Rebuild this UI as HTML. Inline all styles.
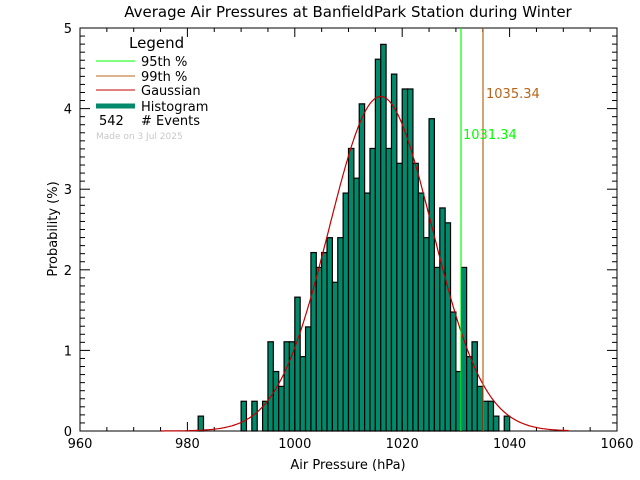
<!DOCTYPE html>
<html><head><meta charset="utf-8"><style>
body{margin:0;background:#fff}
svg{display:block;font-family:"DejaVu Sans","Liberation Sans",sans-serif}
</style></head><body>
<svg id="c" width="640" height="480" xmlns="http://www.w3.org/2000/svg">
<text x="348" y="17" font-size="15" text-anchor="middle">Average Air Pressures at BanfieldPark Station during Winter</text>
<g id="bars"></g>
<g id="axes"></g>
<path id="gauss" fill="none" stroke="#c00000" stroke-width="1.2"/>
<line x1="461" y1="28" x2="461" y2="431" stroke="#00ff00" stroke-width="1.2"/>
<line x1="483" y1="28" x2="483" y2="431" stroke="#b8641a" stroke-width="1.2"/>
<text x="486" y="98" font-size="13" fill="#b8641a">1035.34</text>
<text x="463" y="139" font-size="13" fill="#00ff00">1031.34</text>
<g font-size="13">
<text x="129" y="48" font-size="15">Legend</text>
<line x1="96" y1="61" x2="135" y2="61" stroke="#00ff00"/><text x="141" y="66">95th %</text>
<line x1="96" y1="76" x2="135" y2="76" stroke="#b8641a"/><text x="141" y="81">99th %</text>
<line x1="96" y1="90" x2="135" y2="90" stroke="#c00000"/><text x="141" y="95">Gaussian</text>
<line x1="96" y1="106" x2="135" y2="106" stroke="#00896b" stroke-width="5"/><text x="141" y="111">Histogram</text>
<text x="99" y="125">542</text><text x="141" y="125"># Events</text>
<text x="96" y="139" font-size="9" fill="#c8c8c8">Made on 3 Jul 2025</text>
</g>
<text x="348" y="469" font-size="13" text-anchor="middle">Air Pressure (hPa)</text>
<text x="0" y="0" font-size="13" text-anchor="middle" transform="translate(57,229) rotate(-90)">Probability (%)</text>
</svg>
<script>
const binStarts=[982,990,992,994,995,996,997,998,999,1000,1001,1002,1003,1004,1005,1006,1007,1008,1009,1010,1011,1012,1013,1014,1015,1016,1017,1018,1019,1020,1021,1022,1023,1024,1025,1026,1027,1028,1029,1030,1031,1032,1033,1034,1035,1036,1037,1039];
const counts=[1,2,2,2,6,4,3,6,6,9,5,7,12,11,12,13,10,13,16,19,17,22,16,19,25,26,19,24,18,23,23,18,16,13,21,11,15,14,8,4,11,5,6,3,2,2,1,1];
const totalEvents=542;
const xTicks=[960,980,1000,1020,1040,1060];
const yTicks=[0,1,2,3,4,5];
const gaussMean=1016,gaussSigma=9.6,gaussPeak=4.15;
const X0=80,X1=617,Y0=431,Y1=28;
const sx=v=>X0+(v-960)/100*(X1-X0);
const sy=v=>Y0-v/5*(Y0-Y1);
const NS="http://www.w3.org/2000/svg";
function mk(t,a,p){const e=document.createElementNS(NS,t);for(const k in a)e.setAttribute(k,a[k]);p.appendChild(e);return e;}
const bars=document.getElementById('bars');
binStarts.forEach((b,i)=>{
 const p=counts[i]/totalEvents*100;
 const r=mk('rect',{x:sx(b),y:sy(p),width:sx(b+1)-sx(b),height:Y0-sy(p),fill:'#00896b',stroke:'#000','stroke-width':1.2},bars);
 
 
});
const ax=document.getElementById('axes');
mk('rect',{x:X0,y:Y1,width:X1-X0,height:Y0-Y1,fill:'none',stroke:'#000','stroke-width':1},ax);
for(let v=960;v<=1060;v+=5){const big=v%20===0;const x=sx(v);
 mk('line',{x1:x,y1:Y0,x2:x,y2:Y0-(big?9:4),stroke:'#000'},ax);
 mk('line',{x1:x,y1:Y1,x2:x,y2:Y1+(big?9:4),stroke:'#000'},ax);}
xTicks.forEach(v=>{const t=mk('text',{x:sx(v),y:Y0+17,'font-size':13,'text-anchor':'middle'},ax);t.textContent=v;
 
 });
for(let i=0;i<=50;i++){const v=i/10,big=i%10===0,y=sy(v);
 mk('line',{x1:X0,y1:y,x2:X0+(big?10:5),y2:y,stroke:'#000'},ax);
 mk('line',{x1:X1,y1:y,x2:X1-(big?10:5),y2:y,stroke:'#000'},ax);}
yTicks.forEach(v=>{const t=mk('text',{x:X0-8,y:sy(v)+5,'font-size':13,'text-anchor':'end'},ax);t.textContent=v;
 
 });
let d='';for(let v=975;v<=1051;v+=0.25){const g=gaussPeak*Math.exp(-((v-gaussMean)**2)/(2*gaussSigma**2));d+=(d?'L':'M')+sx(v).toFixed(1)+','+sy(g).toFixed(1);}
document.getElementById('gauss').setAttribute('d',d);
</script>
</body></html>
